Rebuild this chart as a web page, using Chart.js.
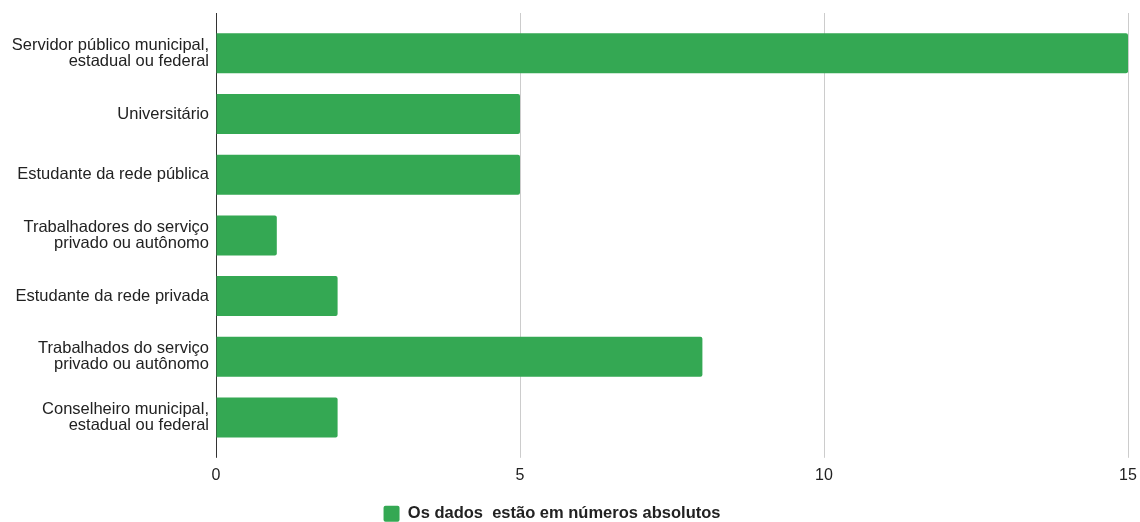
<!DOCTYPE html>
<html>
<head>
<meta charset="utf-8">
<script src="https://cdn.jsdelivr.net/npm/chart.js@4/dist/chart.umd.min.js"></script>
<style>
  html, body { margin: 0; padding: 0; background: #fff; }
  #wrap { width: 1140px; height: 522px; position: relative; }
</style>
</head>
<body>
<div id="wrap"><canvas id="chart"></canvas></div>
<script>
// categories (multi-line labels as arrays)
const categories = [
  ['Servidor público municipal,', 'estadual ou federal'],
  'Universitário',
  'Estudante da rede pública',
  ['Trabalhadores do serviço', 'privado ou autônomo'],
  'Estudante da rede privada',
  ['Trabalhados do serviço', 'privado ou autônomo'],
  ['Conselheiro municipal,', 'estadual ou federal']
];
const values = [15, 5, 5, 1, 2, 8, 2];
const seriesLabel = 'Os dados  estão em números absolutos';
const xTicks = [0, 5, 10, 15];

const green = '#34a853';
const gridColor = ctx => (ctx.tick && ctx.tick.value === 0) ? '#333333' : '#cccccc';
const font = 'Liberation Sans, Arial, sans-serif';

const ctx = document.getElementById('chart').getContext('2d');
new Chart(ctx, {
  type: 'bar',
  data: {
    labels: categories,
    datasets: [{
      label: seriesLabel,
      data: values,
      backgroundColor: green,
      borderRadius: 2,
      borderSkipped: 'start',
      categoryPercentage: 1,
      barPercentage: 0.66
    }]
  },
  options: {
    indexAxis: 'y',
    responsive: true,
    maintainAspectRatio: false,
    animation: false,
    // negative left/bottom padding nudges the legend to where the original has it
    layout: { padding: { top: 13, right: 0, left: -36, bottom: -10 } },
    plugins: {
      tooltip: { enabled: false },
      legend: {
        position: 'bottom',
        labels: {
          boxWidth: 16,
          boxHeight: 16,
          useBorderRadius: true,
          borderRadius: 2,
          color: '#222',
          padding: 12.5,
          font: { family: font, size: 16.5, weight: 'bold' }
        }
      }
    },
    scales: {
      x: {
        min: 0,
        max: 15,
        afterBuildTicks: s => { s.ticks = xTicks.map(v => ({ value: v })); },
        afterFit: s => { s.paddingRight = 12; },
        grid: { color: gridColor, tickLength: 10, drawTicks: true },
        border: { display: false },
        ticks: { color: '#222', padding: 8, font: { family: font, size: 16 } }
      },
      x2: {
        position: 'top',
        axis: 'x',
        min: 0,
        max: 15,
        afterBuildTicks: s => { s.ticks = xTicks.map(v => ({ value: v })); },
        afterFit: s => { s.paddingRight = 12; },
        grid: { color: gridColor, tickLength: 10, drawTicks: true, drawOnChartArea: false },
        border: { display: false },
        ticks: { display: false }
      },
      y: {
        grid: { display: false, drawTicks: false },
        border: { display: false },
        afterFit: s => { s.width = 252; },
        ticks: { color: '#222', padding: 7, font: { family: font, size: 16.5, lineHeight: 0.97 } }
      }
    }
  }
});
</script>
</body>
</html>
